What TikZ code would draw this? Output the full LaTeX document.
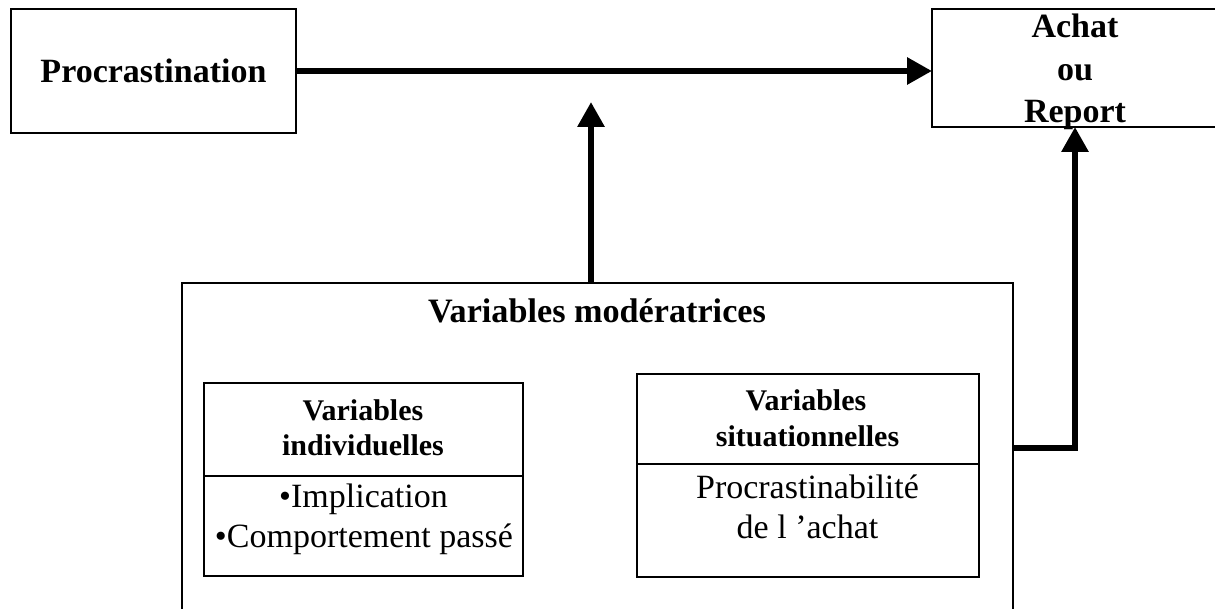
\documentclass[tikz,border=0pt]{standalone}
\usepackage{fontspec}
\setmainfont{Liberation Serif}
\usetikzlibrary{arrows.meta}
\tikzset{
  box/.style={draw, line width=1.2pt, inner sep=0pt, outer sep=0pt},
  txt/.style={anchor=base, inner sep=0pt, outer sep=0pt},
  bigb/.style={txt, font=\fontsize{34}{40}\selectfont\bfseries},
  titleb/.style={txt, font=\fontsize{34.2}{40}\selectfont\bfseries},
  smallb/.style={txt, font=\fontsize{30}{36}\selectfont\bfseries},
  reg/.style={txt, font=\fontsize{34}{40}\selectfont},
  conn/.style={line width=6pt, -{Triangle[length=25pt,width=26pt]}, line join=miter},
  divider/.style={line width=1.2pt},
}
\begin{document}
\begin{tikzpicture}[x=1pt,y=-1pt]
\useasboundingbox (0,0) rectangle (1215,609);
\clip (0,0) rectangle (1215,609);
% boxes
\node[box, minimum width=285pt, minimum height=124pt] (proc) at (153.5,71) {};
\node[box, minimum width=286pt, minimum height=118pt] (achat) at (1075,68) {};
\node[box, minimum width=831pt, minimum height=357pt] (modv) at (597.5,461.5) {};
\node[box, minimum width=319pt, minimum height=193pt] (indiv) at (363.5,479.5) {};
\node[box, minimum width=342pt, minimum height=203pt] (situ) at (808,475.5) {};
\draw[divider] (indiv.west |- 0,476) -- (indiv.east |- 0,476);
\draw[divider] (situ.west |- 0,464) -- (situ.east |- 0,464);
% texts
\node[bigb] (tproc) at (153.5,83) {Procrastination};
\node[bigb] (ta1) at (1075,38) {Achat};
\node[bigb] (ta2) at (1075,81) {ou};
\node[bigb] (ta3) at (1075,123) {Report};
\node[titleb] (tmod) at (597,323) {Variables modératrices};
\node[smallb] (ti1) at (363,420) {Variables};
\node[smallb] (ti2) at (363,455) {individuelles};
\node[reg] (ti3) at (363.5,507) {•Implication};
\node[reg] (ti4) at (364,547) {•Comportement passé};
\node[smallb] (ts1) at (806,410) {Variables};
\node[smallb] (ts2) at (807.5,446) {situationnelles};
\node[reg] (ts3) at (807.5,498) {Procrastinabilité};
\node[reg] (ts4) at (807.5,538) {de l ’achat};
% connectors
\coordinate (mtip) at (591,102);
\draw[conn] (proc.east) -- (achat.west |- proc.east);
\draw[conn] (mtip |- modv.north) -- (mtip);
\draw[conn] (modv.east |- 0,447.5) -| (achat.south);
\end{tikzpicture}
\end{document}
